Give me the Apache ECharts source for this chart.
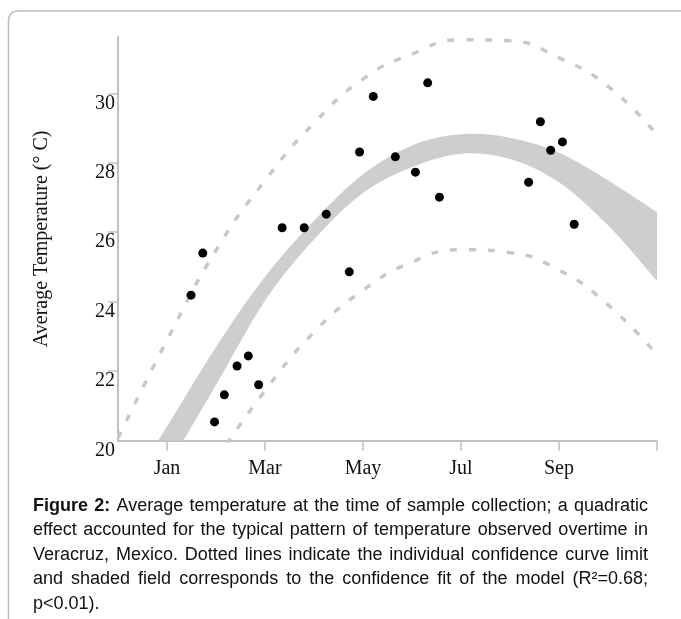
<!DOCTYPE html>
<html>
<head>
<meta charset="utf-8">
<script src="https://cdn.jsdelivr.net/npm/echarts@6/dist/echarts.min.js"></script>
<style>
html,body{margin:0;padding:0;background:#fff}
#main{width:681px;height:619px}
</style>
</head>
<body>
<div id="main"></div>
<script>
// month axis: Dec = 0, Jan = 1 ... Nov = 11
var monthNames = ['Dec', 'Jan', 'Feb', 'Mar', 'Apr', 'May', 'Jun', 'Jul', 'Aug', 'Sep', 'Oct', 'Nov'];
var tickMonths = [1, 3, 5, 7, 9, 11];
var labelMonths = [1, 3, 5, 7, 9];
var tempTicks = [22, 24, 26, 28, 30];
var tempLabels = [20, 22, 24, 26, 28, 30];

// sampled points
var sampleMonth = [1.49, 1.73, 1.97, 2.17, 2.43, 2.66, 2.87, 3.35, 3.80, 4.25, 4.72,
                   4.93, 5.21, 5.66, 6.07, 6.32, 6.56, 8.38, 8.62, 8.83, 9.07, 9.31];
var sampleTemp = [24.19, 25.40, 20.54, 21.32, 22.15, 22.44, 21.61, 26.13, 26.13, 26.52, 24.86,
                  28.31, 29.91, 28.17, 27.73, 30.30, 27.01, 27.44, 29.18, 28.36, 28.60, 26.23];

// fitted band (confidence of the fit)
var curveMonth = [0, 1, 2, 3, 4, 5, 6, 7, 8, 9, 10, 11];
var bandUpper = [18.10, 20.41, 22.70, 24.72, 26.33, 27.67, 28.50, 28.82, 28.72, 28.29, 27.50, 26.58];
var bandLower = [16.80, 19.20, 21.60, 24.03, 25.79, 27.13, 27.87, 28.26, 28.11, 27.44, 26.20, 24.60];

// individual confidence limits (dotted)
var predUpper = [20.08, 22.89, 25.48, 27.49, 29.14, 30.41, 31.13, 31.54, 31.51, 31.02, 30.20, 28.80];
var predLowerMonth = [2, 3, 4, 5, 6, 7, 8, 9, 10, 11];
var predLower = [19.44, 21.44, 23.12, 24.33, 25.14, 25.50, 25.41, 24.91, 23.91, 22.47];

var captionLines = [
  'Figure 2: Average temperature at the time of sample collection; a quadratic',
  'effect accounted for the typical pattern of temperature observed overtime in',
  'Veracruz, Mexico. Dotted lines indicate the individual confidence curve limit',
  'and shaded field corresponds to the confidence fit of the model (R\u00b2=0.68;',
  'p<0.01).'
];

function pairs(xs, ys) {
  return xs.map(function (x, i) { return [x, ys[i]]; });
}

var axisGray = '#c0c0c0';
var serif = '"Liberation Serif", "Times New Roman", serif';
var sans = '"Liberation Sans", Arial, sans-serif';

// caption, justified word by word like the printed figure
var ctx = document.createElement('canvas').getContext('2d');
function textW(t, bold) {
  ctx.font = (bold ? 'bold ' : '') + '18px ' + sans;
  return ctx.measureText(t).width;
}
var capLeft = 33, capRight = 648, capTop = 506, capStep = 24.5;
var graphics = [{
  type: 'rect',
  shape: { x: 8.5, y: 11, width: 720, height: 700, r: 9 },
  style: { fill: 'none', stroke: '#bcbcbc', lineWidth: 1.5 },
  silent: true
}];
captionLines.forEach(function (line, li) {
  var words = line.split(' ');
  var bold = words.map(function (w, wi) { return li === 0 && wi < 2; });
  var widths = words.map(function (w, wi) { return textW(w, bold[wi]); });
  var total = widths.reduce(function (a, b) { return a + b; }, 0);
  var gap = li < captionLines.length - 1 ? (capRight - capLeft - total) / (words.length - 1) : textW(' ', false);
  var x = capLeft;
  words.forEach(function (w, wi) {
    graphics.push({
      type: 'text',
      x: x,
      y: capTop + li * capStep,
      silent: true,
      style: {
        text: w,
        fill: '#111',
        fontSize: 18,
        fontFamily: sans,
        fontWeight: bold[wi] ? 'bold' : 'normal',
        verticalAlign: 'middle'
      }
    });
    x += widths[wi] + gap;
  });
});

// Catmull-Rom curve through pixel points, as SVG path commands
function curveCmds(pts) {
  var s = '';
  for (var i = 0; i < pts.length - 1; i++) {
    var p0 = pts[i - 1] || pts[i], p1 = pts[i], p2 = pts[i + 1], p3 = pts[i + 2] || pts[i + 1];
    s += ' C' + (p1[0] + (p2[0] - p0[0]) / 6) + ',' + (p1[1] + (p2[1] - p0[1]) / 6) +
         ' ' + (p2[0] - (p3[0] - p1[0]) / 6) + ',' + (p2[1] - (p3[1] - p1[1]) / 6) +
         ' ' + p2[0] + ',' + p2[1];
  }
  return s;
}

// shaded band: upper edge forward, lower edge back
function renderBand(params, api) {
  var up = curveMonth.map(function (m, i) { return api.coord([m, bandUpper[i]]); });
  var lo = curveMonth.map(function (m, i) { return api.coord([m, bandLower[i]]); }).reverse();
  var d = 'M' + up[0][0] + ',' + up[0][1] + curveCmds(up) +
          ' L' + lo[0][0] + ',' + lo[0][1] + curveCmds(lo) + ' Z';
  return {
    type: 'path',
    shape: { pathData: d },
    style: { fill: '#cecece', stroke: null }
  };
}

var myChart = echarts.init(document.getElementById('main'));
var option = {
  backgroundColor: '#fff',
  animation: false,
  grid: { left: 118, right: 24, top: 37, bottom: 178.3 },
  xAxis: {
    type: 'value',
    min: 0,
    max: 11,
    splitLine: { show: false },
    axisLine: { lineStyle: { color: axisGray, width: 2 } },
    axisTick: { customValues: tickMonths, length: 10, lineStyle: { color: axisGray, width: 1.5 } },
    axisLabel: {
      customValues: labelMonths,
      formatter: function (v) { return monthNames[Math.round(v)]; },
      color: '#111', fontFamily: serif, fontSize: 20, margin: 18
    }
  },
  yAxis: {
    type: 'value',
    min: 20,
    max: 31.62,
    name: 'Average Temperature (\u00b0 C)',
    nameLocation: 'middle',
    nameGap: 66,
    nameTextStyle: { color: '#111', fontFamily: serif, fontSize: 20 },
    splitLine: { show: false },
    axisLine: { show: true, lineStyle: { color: axisGray, width: 2 } },
    axisTick: { show: true, customValues: tempTicks, length: 10, lineStyle: { color: axisGray, width: 1.5 } },
    axisLabel: {
      customValues: tempLabels,
      color: '#111', fontFamily: serif, fontSize: 20, margin: 3,
      verticalAlign: 'top'
    }
  },
  graphic: graphics,
  series: [
    {
      name: 'band',
      type: 'custom',
      clip: true,
      renderItem: renderBand,
      data: [0],
      silent: true,
      z: 1
    },
    {
      name: 'predUpper',
      type: 'line',
      smooth: true,
      symbol: 'none',
      lineStyle: { color: '#c8c8c8', width: 3.5, type: [7, 12] },
      data: pairs(curveMonth, predUpper),
      z: 2
    },
    {
      name: 'predLower',
      type: 'line',
      smooth: true,
      symbol: 'none',
      lineStyle: { color: '#c8c8c8', width: 3.5, type: [7, 12] },
      data: pairs(predLowerMonth, predLower),
      z: 2
    },
    {
      name: 'samples',
      type: 'scatter',
      symbolSize: 9,
      itemStyle: { color: '#000', opacity: 1 },
      data: pairs(sampleMonth, sampleTemp),
      z: 3
    }
  ]
};
myChart.setOption(option);
</script>
</body>
</html>
